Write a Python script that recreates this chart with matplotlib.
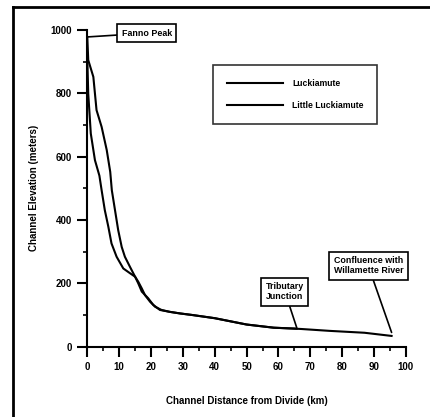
import matplotlib
matplotlib.use("Agg")
import matplotlib.pyplot as plt
from matplotlib.lines import Line2D
from matplotlib.ticker import MultipleLocator

plt.rcParams["font.family"] = ["Liberation Sans", "DejaVu Sans"]
plt.rcParams["font.weight"] = "bold"

# Luckiamute main stem profile (km from divide, elevation m)
main_km = [0, 0.3, 1.9, 2.9, 4.5, 6.1, 7.2, 7.7, 8.7, 9.7, 10.8, 11.8, 13.4,
           15.0, 16.0, 17.1, 18.1, 19.7, 21.3, 23.3, 25.9, 29.1, 33.0, 40.0,
           50.0, 58.5, 67.0, 76.0, 87.0, 95.5]
main_elev = [978, 905, 852, 747, 694, 621, 552, 494, 431, 368, 315, 284, 252,
             221, 205, 184, 163, 142, 126, 116, 110, 105, 100, 90,
             70, 60, 56, 50, 44, 34]

# Little Luckiamute profile
little_km = [0, 0.3, 1.1, 2.4, 3.8, 4.5, 5.5, 6.6, 7.6, 9.2, 11.3, 13.4, 15.0,
             16.0, 17.1, 19.1, 20.7, 22.8, 25.9, 29.1, 33.0, 40.0, 50.0, 58.5,
             65.7]
little_elev = [910, 799, 673, 589, 540, 494, 431, 379, 326, 284, 247, 232, 221,
               200, 174, 153, 132, 116, 110, 105, 100, 90, 70, 60, 57]

series_names = ["Luckiamute", "Little Luckiamute"]

fig = plt.figure(figsize=(4.30, 4.17), dpi=100)
ax = fig.add_axes([0.203, 0.1686, 0.741, 0.7595])

ax.plot(main_km, main_elev, color="black", lw=1.5, label=series_names[0],
        clip_on=False, solid_joinstyle="round")
ax.plot(little_km, little_elev, color="black", lw=1.5, label=series_names[1],
        clip_on=False, solid_joinstyle="round")

ax.set_xlim(0, 100)
ax.set_ylim(0, 1000)
ax.spines["top"].set_visible(False)
ax.spines["right"].set_visible(False)
for side in ["left", "bottom"]:
    ax.spines[side].set_linewidth(1.5)

ax.xaxis.set_major_locator(MultipleLocator(10))
ax.xaxis.set_minor_locator(MultipleLocator(5))
ax.yaxis.set_major_locator(MultipleLocator(200))
ax.yaxis.set_minor_locator(MultipleLocator(100))
ax.tick_params(which="major", direction="out", length=7, width=1.5,
               labelsize=7)
ax.tick_params(which="minor", direction="out", length=3, width=1.2)
ax.tick_params(axis="x", which="major", pad=4)
ax.tick_params(axis="y", which="major", pad=4)
for lbl in ax.get_xticklabels() + ax.get_yticklabels():
    lbl.set_fontweight("bold")

ax.set_xlabel("Channel Distance from Divide (km)", fontsize=7,
              fontweight="bold")
ax.set_ylabel("Channel Elevation (meters)", fontsize=7, fontweight="bold")
ax.xaxis.set_label_coords(0.501, -0.155)
ax.yaxis.set_label_coords(-0.150, 0.503)

leg = ax.legend(loc="upper left", bbox_to_anchor=(0.394, 0.889),
                fontsize=6.2, handlelength=6.6, handletextpad=1.0,
                labelspacing=1.5, borderpad=1.6, borderaxespad=0,
                fancybox=False, frameon=True, edgecolor="black")
leg.get_frame().set_linewidth(1.2)
for t in leg.get_texts():
    t.set_fontweight("bold")
for h in leg.legend_handles:
    h.set_linewidth(1.5)

box = dict(boxstyle="square,pad=0.5", fc="white", ec="black", lw=1.2)
arrow = dict(arrowstyle="-", color="black", lw=1.2, shrinkA=0, shrinkB=0)
ax.annotate("Fanno Peak", xy=(0, 978), xytext=(18.7, 990), fontsize=6.4,
            fontweight="bold", ha="center", va="center", bbox=box,
            arrowprops=arrow, annotation_clip=False)
ax.annotate("Tributary\nJunction", xy=(65.7, 61), xytext=(62.0, 174),
            fontsize=6.4, fontweight="bold", ha="center", va="center",
            bbox=box, arrowprops=arrow, linespacing=1.15)
ax.annotate("Confluence with\nWillamette River", xy=(95.5, 45),
            xytext=(88.2, 255), fontsize=6.4, fontweight="bold", ha="center",
            va="center", bbox=box, arrowprops=arrow, linespacing=1.15,
            annotation_clip=False)

# page frame around the figure (top and left edges visible)
fig.add_artist(Line2D([0.030, 1.0], [0.983, 0.983], color="black", lw=2,
                      transform=fig.transFigure))
fig.add_artist(Line2D([0.030, 0.030], [0.0, 0.983], color="black", lw=2,
                      transform=fig.transFigure))

fig.savefig("out.png", dpi=100)
